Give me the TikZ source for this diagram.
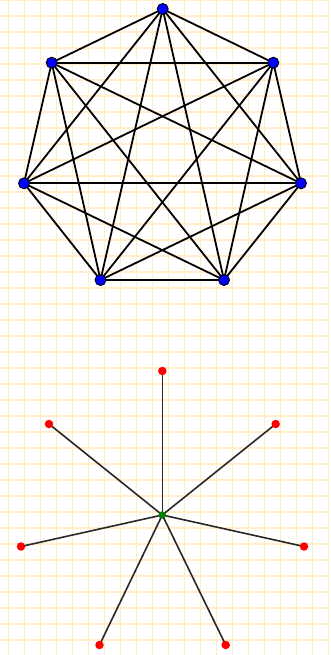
\documentclass[tikz,border=0pt]{standalone}
\definecolor{gridc}{RGB}{255,238,200}
\definecolor{nodeblue}{RGB}{0,0,255}
\definecolor{leafred}{RGB}{255,0,0}
\definecolor{hubgreen}{RGB}{0,128,0}
\definecolor{starline}{RGB}{40,40,40}
\pgfdeclarelayer{bg}
\pgfdeclarelayer{edges}
\pgfsetlayers{bg,edges,main}
\tikzset{
  gridline/.style={draw=gridc,line width=1.5pt},
  kvertex/.style={circle,fill=nodeblue,draw=black,line width=0.9pt,minimum size=11pt,inner sep=0pt},
  kedge/.style={draw=black,line width=1.8pt},
  leaf/.style={circle,fill=leafred,minimum size=8.5pt,inner sep=0pt},
  hub/.style={circle,fill=hubgreen,minimum size=7.5pt,inner sep=0pt},
  spoke/.style={draw=starline,line width=1.6pt}
}
\begin{document}
\begin{tikzpicture}[x=1pt,y=-1pt]
\useasboundingbox (0,0) rectangle (330,655);
\begin{pgfonlayer}{bg}
\fill[white] (0,0) rectangle (330,655);
\foreach \i in {0,...,20} {\draw[gridline] (8.3+16*\i,0) -- (8.3+16*\i,655);}
\foreach \j in {0,...,41} {\draw[gridline] (0,-0.2+16*\j) -- (330,-0.2+16*\j);}
\end{pgfonlayer}
% complete graph K7
\node[kvertex] (a) at (162.7,9) {};
\node[kvertex] (b) at (273.3,62.7) {};
\node[kvertex] (c) at (301,183.3) {};
\node[kvertex] (d) at (224,280) {};
\node[kvertex] (e) at (100.5,280) {};
\node[kvertex] (f) at (24,183.3) {};
\node[kvertex] (g) at (51.7,62.7) {};
\begin{pgfonlayer}{edges}
\foreach \u/\v in {a/b,a/c,a/d,a/e,a/f,a/g,b/c,b/d,b/e,b/f,b/g,c/d,c/e,c/f,c/g,d/e,d/f,d/g,e/f,e/g,f/g}
  {\draw[kedge] (\u.center) -- (\v.center);}
\end{pgfonlayer}
% star
\node[hub] (h) at (162.3,515) {};
\node[leaf] (l1) at (162.3,371) {};
\node[leaf] (l2) at (275.7,424) {};
\node[leaf] (l3) at (304,546.5) {};
\node[leaf] (l4) at (225.7,645) {};
\node[leaf] (l5) at (99.5,645) {};
\node[leaf] (l6) at (21,546.5) {};
\node[leaf] (l7) at (49,424) {};
\begin{pgfonlayer}{edges}
\foreach \l in {l1,l2,l3,l4,l5,l6,l7} {\draw[spoke] (h.center) -- (\l.center);}
\end{pgfonlayer}
\end{tikzpicture}
\end{document}
